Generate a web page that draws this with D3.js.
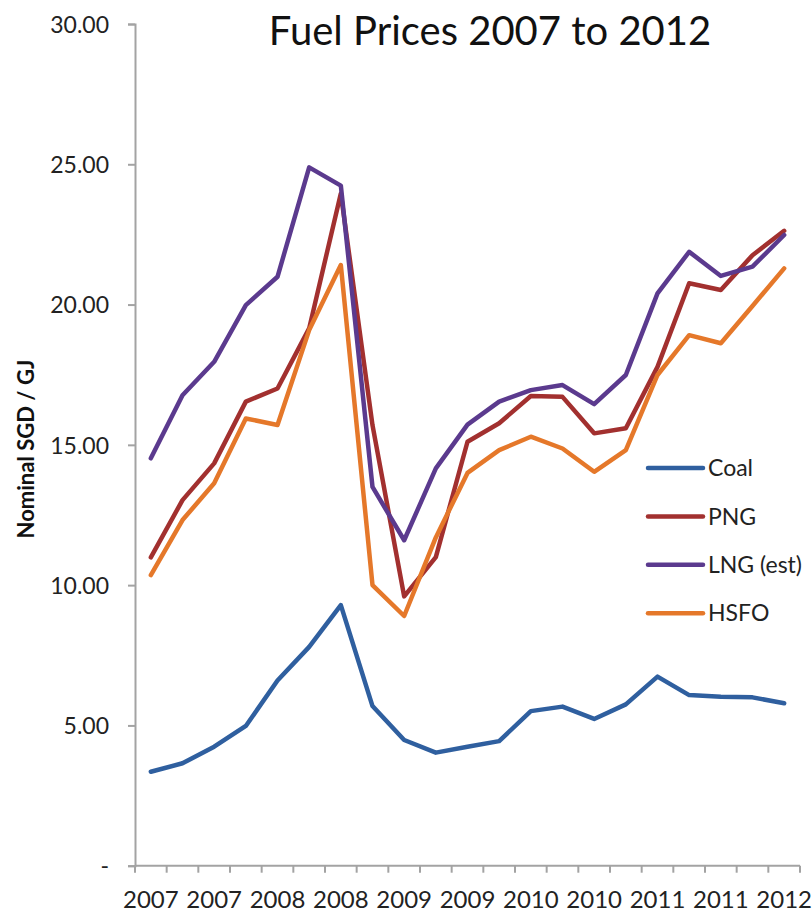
<!DOCTYPE html>
<html>
<head>
<meta charset="utf-8">
<script src="https://cdn.jsdelivr.net/npm/d3@7"></script>
<style>
  html, body { margin: 0; padding: 0; background: #fff; }
  svg { display: block; }
</style>
</head>
<body>
<svg id="chart" width="812" height="913"></svg>
<script>
// ---- Data ----
const categories = ["2007","2007","2007","2007","2008","2008","2008","2008",
  "2009","2009","2009","2009","2010","2010","2010","2010",
  "2011","2011","2011","2011","2012"];
const seriesNames = ["Coal", "PNG", "LNG (est)", "HSFO"];
const coal = [3.35, 3.65, 4.24, 4.98, 6.6, 7.8, 9.29, 5.69, 4.48, 4.03, 4.24, 4.44, 5.51, 5.67, 5.23, 5.75, 6.74, 6.08, 6.02, 6.0, 5.79];
const png  = [10.99, 13.03, 14.34, 16.54, 17.01, 19.15, 23.96, 15.7, 9.6, 11.0, 15.11, 15.77, 16.74, 16.71, 15.41, 15.59, 17.78, 20.76, 20.52, 21.76, 22.63];
const lng  = [14.52, 16.77, 17.96, 19.98, 20.99, 24.89, 24.24, 13.5, 11.6, 14.16, 15.72, 16.54, 16.95, 17.13, 16.45, 17.49, 20.4, 21.88, 21.02, 21.35, 22.48];
const hsfo = [10.36, 12.32, 13.63, 15.94, 15.71, 19.09, 21.41, 10.0, 8.9, 11.7, 14.0, 14.81, 15.29, 14.87, 14.04, 14.81, 17.49, 18.91, 18.62, 19.95, 21.29];
const yTicks = [0, 5, 10, 15, 20, 25, 30];
const colors = ["#2f5f9f", "#a2302f", "#5b3a8e", "#e5782a"];
const chartTitle = "Fuel Prices 2007 to 2012";
const yTitle = "Nominal SGD / GJ";

const series = [coal, png, lng, hsfo].map((v, i) => ({ name: seriesNames[i], values: v, color: colors[i] }));

// ---- Layout ----
const FONT = "Lato, 'Open Sans', sans-serif";
const plotLeft = 135, plotRight = 800, plotTop = 24, plotBottom = 865.7;
const AXIS = "#a3a3a3";

const svg = d3.select("#chart");

const idx = d3.range(categories.length);
const x = d3.scaleBand().domain(idx).range([plotLeft, plotRight]).paddingInner(0).paddingOuter(0);
const y = d3.scaleLinear().domain([0, 30]).range([plotBottom, plotTop]);
const cx = i => x(i) + x.bandwidth() / 2;

// Y axis
const yAxis = d3.axisLeft(y).tickValues(yTicks).tickSize(7).tickPadding(19)
  .tickFormat(d => d === 0 ? "-" : d3.format(".2f")(d));
const gy = svg.append("g").attr("transform", `translate(${plotLeft},0)`).call(yAxis);
gy.select(".domain").attr("stroke", AXIS).attr("stroke-width", 2);
gy.selectAll(".tick line").attr("stroke", AXIS).attr("stroke-width", 2);
gy.selectAll(".tick text").attr("font-family", FONT).attr("font-size", 23)
  .attr("fill", "#222").attr("dy", "0.36em");

// X axis
const gx = svg.append("g").attr("transform", `translate(0,${plotBottom})`);
gx.append("line").attr("x1", plotLeft).attr("x2", plotRight).attr("y1", 0).attr("y2", 0)
  .attr("stroke", AXIS).attr("stroke-width", 2);
const boundaries = idx.map(i => x(i)).concat([plotRight]);
gx.selectAll("line.tk").data(boundaries).join("line").attr("class", "tk")
  .attr("x1", d => d).attr("x2", d => d).attr("y1", 0).attr("y2", 7)
  .attr("stroke", AXIS).attr("stroke-width", 2);
gx.selectAll("text").data(idx.filter(i => i % 2 === 0)).join("text")
  .attr("x", i => cx(i)).attr("y", 42)
  .attr("text-anchor", "middle").attr("font-family", FONT).attr("font-size", 24)
  .attr("fill", "#222").text(i => categories[i]);

// Lines
const line = d3.line().x((d, i) => cx(i)).y(d => y(d)).curve(d3.curveLinear);
svg.append("g").selectAll("path").data(series).join("path")
  .attr("d", d => line(d.values)).attr("fill", "none")
  .attr("stroke", d => d.color).attr("stroke-width", 4.5)
  .attr("stroke-linejoin", "round").attr("stroke-linecap", "round");

// Legend
const lg = svg.append("g").attr("transform", "translate(648,468)");
const items = lg.selectAll("g").data(series).join("g")
  .attr("transform", (d, i) => `translate(0,${i * 48.4})`);
items.append("line").attr("x1", 0).attr("x2", 55).attr("y1", 0).attr("y2", 0)
  .attr("stroke", d => d.color).attr("stroke-width", 4.5).attr("stroke-linecap", "round");
items.append("text").attr("x", 60).attr("y", 0).attr("dy", "0.36em")
  .attr("font-family", FONT).attr("font-size", 23).attr("fill", "#222").text(d => d.name);

// Title
svg.append("text").attr("x", 490).attr("y", 45).attr("text-anchor", "middle")
  .attr("font-family", FONT).attr("font-size", 40).attr("fill", "#111").text(chartTitle);

// Y title
svg.append("text").attr("transform", "translate(34,449) rotate(-90)")
  .attr("text-anchor", "middle").attr("font-family", FONT).attr("font-size", 22)
  .attr("font-weight", "bold").attr("fill", "#111").text(yTitle);
</script>
</body>
</html>
